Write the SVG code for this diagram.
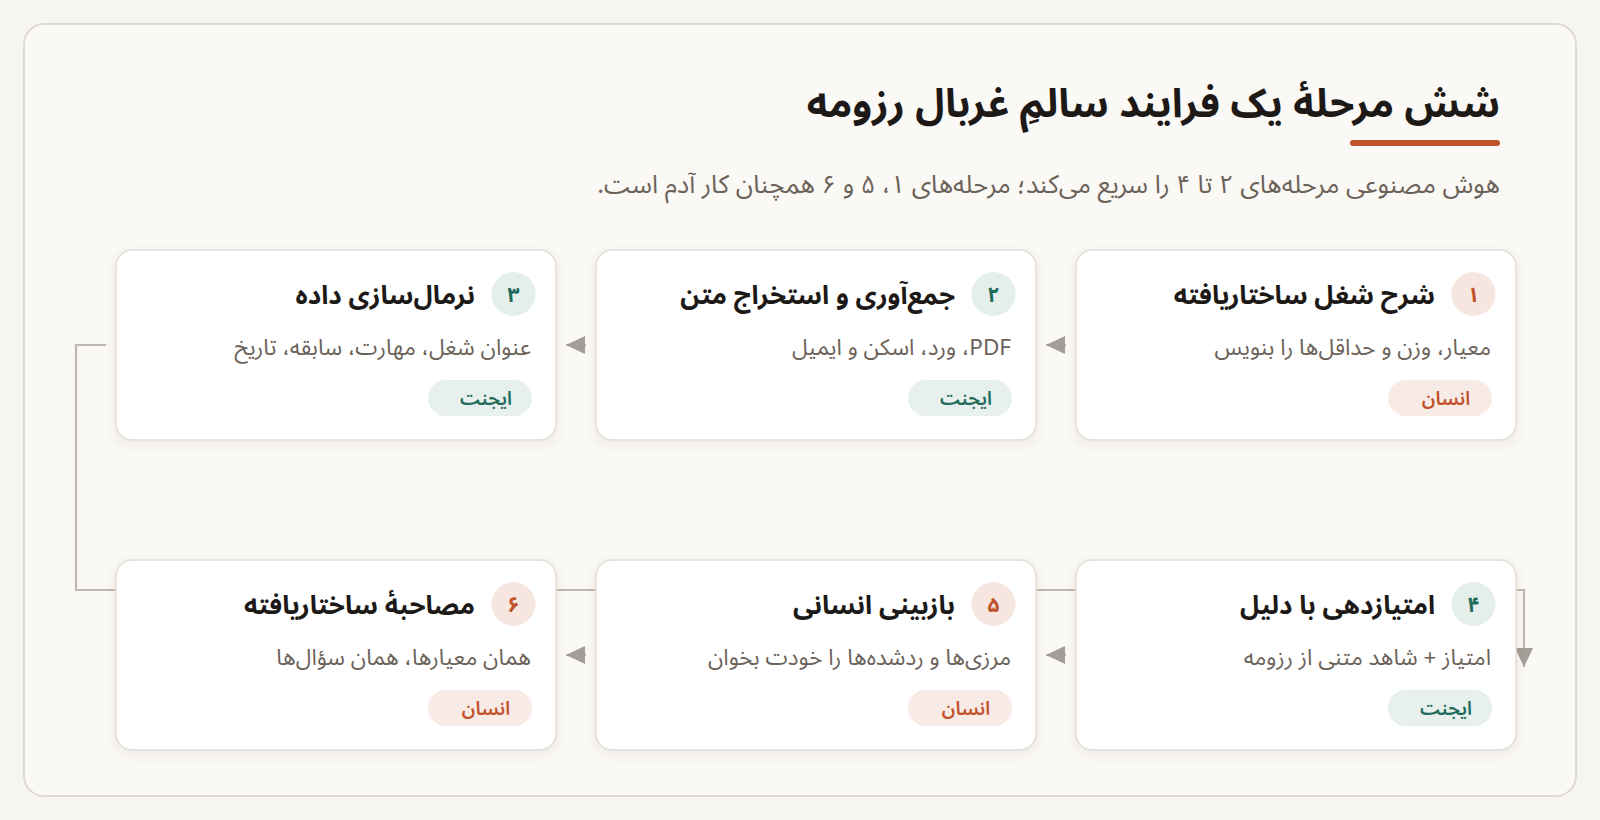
<svg xmlns="http://www.w3.org/2000/svg" width="1600" height="820" viewBox="0 0 1600 820">
<defs>
<style>
.rtl{direction:rtl;unicode-bidi:embed;font-family:"Noto Sans Arabic","DejaVu Sans",sans-serif;}
.h1{font-size:40px;font-weight:700;fill:#1d1916;text-anchor:start;}
.sub{font-size:25.5px;fill:#6b625a;text-anchor:start;}
.card{fill:#ffffff;stroke:#e1ddd6;stroke-width:1.5;filter:url(#sh);}
.ttl{font-size:26px;font-weight:700;fill:#1d1916;text-anchor:start;}
.desc{font-size:22.5px;fill:#6b625a;text-anchor:start;}
.num{font-size:21px;font-weight:700;text-anchor:middle;}
.tag{font-size:19px;font-weight:600;text-anchor:middle;}
.hc{fill:#f7e6e0;}
.ac{fill:#e4eeeb;}
.ht{fill:#c0532b;}
.at{fill:#1f6b5c;}
.hp{fill:#f8eae5;}
.ap{fill:#e7f0ed;}
.edge{fill:none;stroke:#bdb8b1;stroke-width:2.2;}
</style>
<filter id="sh" x="-10%" y="-10%" width="120%" height="130%">
<feDropShadow dx="0" dy="4" stdDeviation="6" flood-color="#5a4636" flood-opacity="0.08"/>
</filter>
<marker id="arr" markerUnits="userSpaceOnUse" markerWidth="20" markerHeight="20" viewBox="0 0 20 20" refX="19" refY="10" orient="auto">
<path d="M0,1 L19,10 L0,19 z" fill="#a39e97"/>
</marker>
</defs>
<rect x="0" y="0" width="1600" height="820" fill="#f7f5f0"/>
<rect x="24" y="24" width="1552" height="772" rx="20" fill="#fbf9f5" stroke="#dedad3" stroke-width="2"/>
<g id="header">
<text class="rtl h1" x="1500" y="117">شش مرحلهٔ یک فرایند سالمِ غربال رزومه</text>
<rect x="1350" y="140" width="150" height="6" rx="3" fill="#c0532b"/>
<text class="rtl sub" x="1500" y="193">هوش مصنوعی مرحله‌های ۲ تا ۴ را سریع می‌کند؛ مرحله‌های ۱، ۵ و ۶ همچنان کار آدم است.</text>
</g>
<g id="connectors">
<path class="edge" d="M106,345 H76 V590 H1524 V667" marker-end="url(#arr)"/>
<line class="edge" x1="1066" y1="345" x2="1046" y2="345" marker-end="url(#arr)"/>
<line class="edge" x1="586" y1="345" x2="566" y2="345" marker-end="url(#arr)"/>
<line class="edge" x1="1066" y1="655" x2="1046" y2="655" marker-end="url(#arr)"/>
<line class="edge" x1="586" y1="655" x2="566" y2="655" marker-end="url(#arr)"/>
</g>
<g id="node1">
<rect class="card" x="1076" y="250" width="440" height="190" rx="16"/>
<circle class="hc" cx="1473.5" cy="294" r="22"/>
<text class="rtl num ht" x="1473.5" y="302">۱</text>
<text class="rtl ttl" x="1435" y="304">شرح شغل ساختاریافته</text>
<text class="rtl desc" x="1491" y="355">معیار، وزن و حداقل‌ها را بنویس</text>
<rect class="hp" x="1388" y="380" width="104" height="36" rx="18"/>
<text class="rtl tag ht" x="1446" y="405">انسان</text>
</g>
<g id="node2">
<rect class="card" x="596" y="250" width="440" height="190" rx="16"/>
<circle class="ac" cx="993.5" cy="294" r="22"/>
<text class="rtl num at" x="993.5" y="302">۲</text>
<text class="rtl ttl" x="955" y="304">جمع‌آوری و استخراج متن</text>
<text class="rtl desc" x="1011" y="355">PDF، ورد، اسکن و ایمیل</text>
<rect class="ap" x="908" y="380" width="104" height="36" rx="18"/>
<text class="rtl tag at" x="966" y="405">ایجنت</text>
</g>
<g id="node3">
<rect class="card" x="116" y="250" width="440" height="190" rx="16"/>
<circle class="ac" cx="513.5" cy="294" r="22"/>
<text class="rtl num at" x="513.5" y="302">۳</text>
<text class="rtl ttl" x="475" y="304">نرمال‌سازی داده</text>
<text class="rtl desc" x="531" y="355">عنوان شغل، مهارت، سابقه، تاریخ</text>
<rect class="ap" x="428" y="380" width="104" height="36" rx="18"/>
<text class="rtl tag at" x="486" y="405">ایجنت</text>
</g>
<g id="node4">
<rect class="card" x="1076" y="560" width="440" height="190" rx="16"/>
<circle class="ac" cx="1473.5" cy="604" r="22"/>
<text class="rtl num at" x="1473.5" y="612">۴</text>
<text class="rtl ttl" x="1435" y="614">امتیازدهی با دلیل</text>
<text class="rtl desc" x="1491" y="665">امتیاز + شاهد متنی از رزومه</text>
<rect class="ap" x="1388" y="690" width="104" height="36" rx="18"/>
<text class="rtl tag at" x="1446" y="715">ایجنت</text>
</g>
<g id="node5">
<rect class="card" x="596" y="560" width="440" height="190" rx="16"/>
<circle class="hc" cx="993.5" cy="604" r="22"/>
<text class="rtl num ht" x="993.5" y="612">۵</text>
<text class="rtl ttl" x="955" y="614">بازبینی انسانی</text>
<text class="rtl desc" x="1011" y="665">مرزی‌ها و ردشده‌ها را خودت بخوان</text>
<rect class="hp" x="908" y="690" width="104" height="36" rx="18"/>
<text class="rtl tag ht" x="966" y="715">انسان</text>
</g>
<g id="node6">
<rect class="card" x="116" y="560" width="440" height="190" rx="16"/>
<circle class="hc" cx="513.5" cy="604" r="22"/>
<text class="rtl num ht" x="513.5" y="612">۶</text>
<text class="rtl ttl" x="475" y="614">مصاحبهٔ ساختاریافته</text>
<text class="rtl desc" x="531" y="665">همان معیارها، همان سؤال‌ها</text>
<rect class="hp" x="428" y="690" width="104" height="36" rx="18"/>
<text class="rtl tag ht" x="486" y="715">انسان</text>
</g>
</svg>
